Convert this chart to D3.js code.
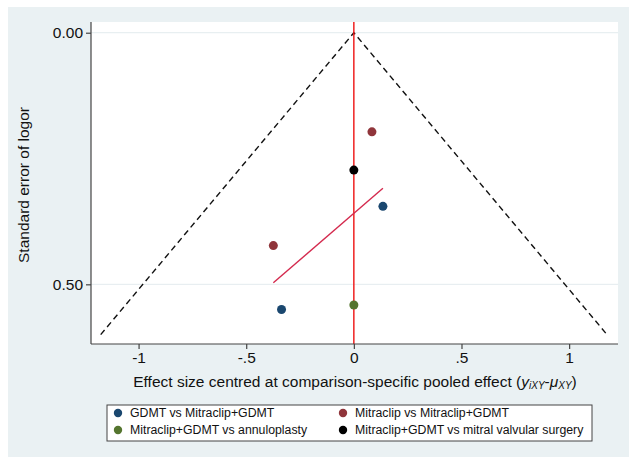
<!DOCTYPE html>
<html>
<head>
<meta charset="utf-8">
<script src="https://cdn.jsdelivr.net/npm/d3@7/dist/d3.min.js"></script>
<style>
  html, body { margin: 0; padding: 0; background: #ffffff; }
  svg { display: block; font-family: Arial, "Liberation Sans", sans-serif; }
</style>
</head>
<body>
<svg id="chart" width="629" height="459"></svg>
<script>
// ---- data ----
const seriesNames = [
  "GDMT vs Mitraclip+GDMT",
  "Mitraclip vs Mitraclip+GDMT",
  "Mitraclip+GDMT vs annuloplasty",
  "Mitraclip+GDMT vs mitral valvular surgery"
];
const seriesColors = ["#1a476f", "#90353b", "#55752f", "#000000"];
// centred effect sizes and standard errors per comparison
const effects = [0.135, -0.336, 0.084, -0.374, 0.000, 0.000];
const stdErrors = [0.345, 0.550, 0.197, 0.423, 0.541, 0.273];
const seriesIndex = [0, 0, 1, 1, 2, 3];
// fitted line (effect, SE) endpoints
const fitEffects = [-0.374, 0.135];
const fitSE = [0.497, 0.309];
// funnel: pseudo 95% limits down to max SE
const funnelSE = [0, 0.6];
const z95 = 1.96;
const xTicks = [-1, -0.5, 0, 0.5, 1];
const xTickLabels = ["-1", "-.5", "0", ".5", "1"];
const yTicks = [0, 0.5];
const yTickLabels = ["0.00", "0.50"];

// ---- layout ----
const svg = d3.select("#chart");
const plot = { left: 91, right: 618, top: 22, bottom: 344 };

svg.append("rect").attr("x", 8).attr("y", 7).attr("width", 621).attr("height", 450)
  .attr("fill", "#eaf1f3");
svg.append("rect").attr("x", plot.left).attr("y", plot.top)
  .attr("width", plot.right - plot.left).attr("height", plot.bottom - plot.top)
  .attr("fill", "#ffffff");

const x = d3.scaleLinear().domain([-1.221, 1.227]).range([plot.left, plot.right]);
const y = d3.scaleLinear().domain([-0.0213, 0.6186]).range([plot.top, plot.bottom]);

// gridlines
svg.append("g").selectAll("line").data(yTicks).join("line")
  .attr("x1", plot.left).attr("x2", plot.right)
  .attr("y1", d => y(d)).attr("y2", d => y(d))
  .attr("stroke", "#e3ebee").attr("stroke-width", 1);

// funnel
const funnel = [[-z95 * funnelSE[1], funnelSE[1]], [0, funnelSE[0]], [z95 * funnelSE[1], funnelSE[1]]];
svg.append("path")
  .attr("d", d3.line().x(d => x(d[0])).y(d => y(d[1]))(funnel))
  .attr("fill", "none").attr("stroke", "#111").attr("stroke-width", 1.4)
  .attr("stroke-dasharray", "6,4");

// zero line
svg.append("line").attr("x1", x(0)).attr("x2", x(0)).attr("y1", plot.top).attr("y2", plot.bottom)
  .attr("stroke", "#ee1111").attr("stroke-width", 1.4);

// fit line
svg.append("path")
  .attr("d", d3.line().x(d => x(d[0])).y(d => y(d[1]))(fitEffects.map((e, i) => [e, fitSE[i]])))
  .attr("fill", "none").attr("stroke", "#d42a4e").attr("stroke-width", 1.4);

// points
svg.append("g").selectAll("circle").data(effects.map((e, i) => ({ e, s: stdErrors[i], g: seriesIndex[i] })))
  .join("circle")
  .attr("cx", d => x(d.e)).attr("cy", d => y(d.s)).attr("r", 4.5)
  .attr("fill", d => seriesColors[d.g]);

// axes
const xAxis = svg.append("g").attr("transform", `translate(0,${plot.bottom})`)
  .call(d3.axisBottom(x).tickValues(xTicks).tickFormat((d, i) => xTickLabels[i]).tickSize(5).tickPadding(3).tickSizeOuter(0));
const yAxis = svg.append("g").attr("transform", `translate(${plot.left},0)`)
  .call(d3.axisLeft(y).tickValues(yTicks).tickFormat((d, i) => yTickLabels[i]).tickSize(5).tickPadding(3).tickSizeOuter(0));
[xAxis, yAxis].forEach(g => {
  g.select(".domain").attr("stroke", "#444").attr("stroke-width", 1.2);
  g.selectAll(".tick line").attr("stroke", "#444").attr("stroke-width", 1.2);
  g.selectAll(".tick text").attr("fill", "#111").style("font-size", "15.5px")
    .style("font-family", "Arial, 'Liberation Sans', sans-serif");
});
// fix x-axis domain to full width
xAxis.select(".domain").attr("d", `M${plot.left - x(0) + x(0)},0H${plot.right}`);
yAxis.select(".domain").attr("d", `M0,${plot.top}V${plot.bottom}`);

// axis titles
svg.append("text").attr("transform", `translate(29,${(plot.top + plot.bottom) / 2 + 2}) rotate(-90)`)
  .attr("text-anchor", "middle").attr("fill", "#111").style("font-size", "15.5px")
  .text("Standard error of logor");

const xt = svg.append("text").attr("x", 355).attr("y", 387).attr("text-anchor", "middle")
  .attr("fill", "#111").style("font-size", "15.5px");
xt.append("tspan").text("Effect size centred at comparison-specific pooled effect (");
xt.append("tspan").attr("font-style", "italic").text("y");
xt.append("tspan").attr("font-style", "italic").style("font-size", "10px").attr("dy", 2).text("iXY");
xt.append("tspan").attr("dy", -2).text("-");
xt.append("tspan").attr("font-style", "italic").text("μ");
xt.append("tspan").attr("font-style", "italic").style("font-size", "10px").attr("dy", 2).text("XY");
xt.append("tspan").attr("dy", -2).text(")");

// legend
const lg = svg.append("g");
lg.append("rect").attr("x", 107).attr("y", 405).attr("width", 485).attr("height", 36)
  .attr("fill", "#ffffff").attr("stroke", "#444").attr("stroke-width", 1);
const legCols = [118, 343];
const legRows = [413, 430];
seriesNames.forEach((name, i) => {
  const cx = legCols[i % 2], cy = legRows[Math.floor(i / 2)];
  lg.append("circle").attr("cx", cx).attr("cy", cy).attr("r", 4.2).attr("fill", seriesColors[i]);
  lg.append("text").attr("x", cx + 12).attr("y", cy + 4.3).attr("fill", "#111")
    .style("font-size", "12.3px").text(name);
});
</script>
</body>
</html>
